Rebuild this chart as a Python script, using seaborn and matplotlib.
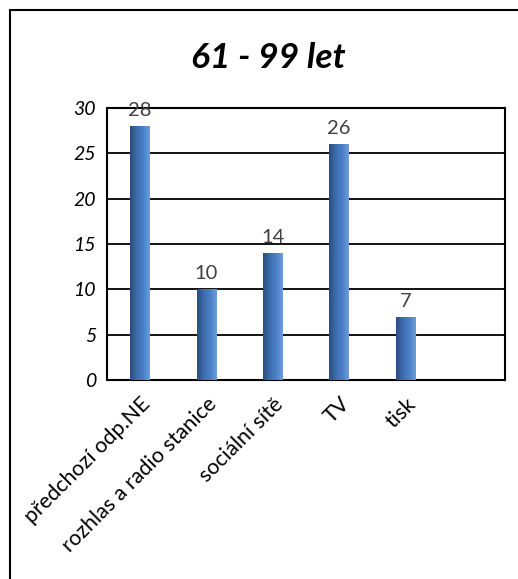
import matplotlib.pyplot as plt
import matplotlib.patches as mpatches
from matplotlib.colors import LinearSegmentedColormap
import seaborn as sns
import numpy as np
import pandas as pd

categories = ["předchozí odp.NE", "rozhlas a radio stanice", "sociální sítě", "TV", "tisk"]
values = [28, 10, 14, 26, 7]
title = "61 - 99 let"
y_ticks = [0, 5, 10, 15, 20, 25, 30]

sns.set_theme(style="white")
plt.rcParams['font.family'] = ['Lato', 'DejaVu Sans']
plt.rcParams['text.color'] = 'black'
plt.rcParams['xtick.color'] = 'black'
plt.rcParams['ytick.color'] = 'black'

df = pd.DataFrame({"kat": categories, "n": values})

fig = plt.figure(figsize=(5.18, 5.79), dpi=100)
ax = fig.add_axes([0.2066, 0.3437, 0.7684, 0.4698])

sns.barplot(data=df, x="kat", y="n", ax=ax, color="#3b6bab", width=0.3,
            saturation=1, edgecolor="none")

# gradient fill, dark on the left to lighter on the right
grad_cmap = LinearSegmentedColormap.from_list("bar", ["#2a4d7e", "#3d6cad", "#4a80c6", "#6f9cd8"])
grad = np.linspace(0, 1, 64).reshape(1, -1)
for bar in ax.patches:
    x0, y0 = bar.get_x(), bar.get_y()
    w, h = bar.get_width(), bar.get_height()
    im = ax.imshow(grad, cmap=grad_cmap, aspect="auto", extent=[x0, x0 + w, y0, y0 + h],
                   zorder=3, interpolation="bilinear")
    im.set_clip_path(bar)
    bar.set_zorder(3)

for bar, v in zip(ax.patches, values):
    ax.annotate(str(v), (bar.get_x() + bar.get_width() / 2, bar.get_height()),
                xytext=(0, 5), textcoords="offset points", ha="center", va="bottom",
                fontsize=14.5, color="#404040", zorder=5)

ax.set_xlim(-0.5, 5.5)
ax.set_ylim(0, 30)
ax.set_yticks(y_ticks)
ax.set_yticklabels([str(t) for t in y_ticks], fontsize=14, style="italic")
ax.yaxis.grid(True, color="black", linewidth=1.3)
ax.set_axisbelow(True)
ax.set_xlabel("")
ax.set_ylabel("")
ax.tick_params(axis="y", length=0, pad=8)
ax.tick_params(axis="x", length=0, pad=10)
ax.set_xticks(range(len(categories)))
ax.set_xticklabels(categories, rotation=45, ha="right", rotation_mode="anchor", fontsize=15.5)
for s in ax.spines.values():
    s.set_visible(True)
    s.set_color("black")
    s.set_linewidth(1.5)

fig.text(0.518, 0.9, title, ha="center", va="center", fontsize=25.5,
         fontweight="bold", style="italic", color="black")

# outer chart frame (cut off on right and bottom)
frame = mpatches.Rectangle((10 / 518, -0.1), 1.2, 1.1 - 10 / 579, transform=fig.transFigure,
                           fill=False, edgecolor="black", linewidth=1.5, clip_on=False)
fig.patches.append(frame)

fig.savefig("out.png", dpi=100)
